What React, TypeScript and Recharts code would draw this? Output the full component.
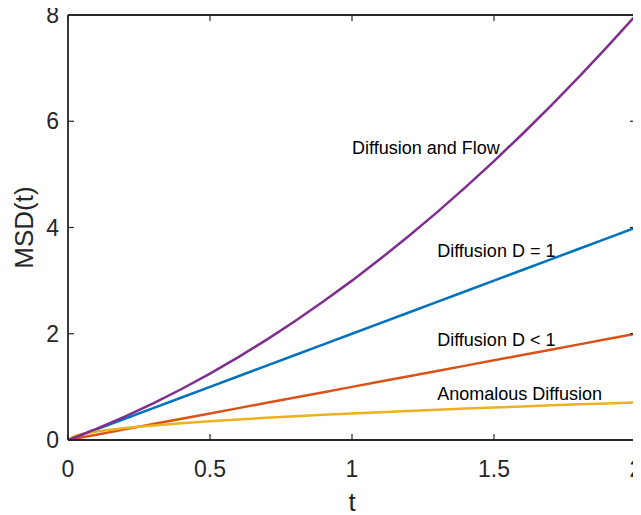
import React from 'react';
import { LineChart, Line, XAxis, YAxis, ReferenceDot, Label } from 'recharts';

// sample times and MSD values
const times = [0, 0.025, 0.05, 0.1, 0.2, 0.3, 0.4, 0.5, 0.6, 0.7, 0.8, 0.9, 1.0, 1.1, 1.2, 1.3, 1.4, 1.5, 1.6, 1.7, 1.8, 1.9, 2.0];
const diffusionD1 = [0, 0.05, 0.1, 0.2, 0.4, 0.6, 0.8, 1.0, 1.2, 1.4, 1.6, 1.8, 2.0, 2.2, 2.4, 2.6, 2.8, 3.0, 3.2, 3.4, 3.6, 3.8, 4.0];
const diffusionDlt1 = [0, 0.025, 0.05, 0.1, 0.2, 0.3, 0.4, 0.5, 0.6, 0.7, 0.8, 0.9, 1.0, 1.1, 1.2, 1.3, 1.4, 1.5, 1.6, 1.7, 1.8, 1.9, 2.0];
const anomalous = [0, 0.079, 0.112, 0.158, 0.224, 0.274, 0.316, 0.354, 0.387, 0.418, 0.447, 0.474, 0.5, 0.524, 0.548, 0.57, 0.592, 0.612, 0.632, 0.652, 0.671, 0.689, 0.707];
const diffusionFlow = [0, 0.051, 0.103, 0.21, 0.44, 0.69, 0.96, 1.25, 1.56, 1.89, 2.24, 2.61, 3.0, 3.41, 3.84, 4.29, 4.76, 5.25, 5.76, 6.29, 6.84, 7.41, 8.0];

const xTicks = [0, 0.5, 1, 1.5, 2];
const yTicks = [0, 2, 4, 6, 8];

const annotations = [
  { label: 'Diffusion and Flow', t: 1.0, msd: 5.5 },
  { label: 'Diffusion D = 1', t: 1.3, msd: 3.56 },
  { label: 'Diffusion D < 1', t: 1.3, msd: 1.88 },
  { label: 'Anomalous Diffusion', t: 1.3, msd: 0.87 },
];

const data = times.map((t, i) => ({
  t,
  d1: diffusionD1[i],
  dlt1: diffusionDlt1[i],
  anom: anomalous[i],
  flow: diffusionFlow[i],
}));

const FONT = 'Liberation Sans, Arial, Helvetica, sans-serif';
const AXIS = '#262626';

// chart layout
const W = 633;
const H = 507;
const MARGIN = { top: 7, right: 5, bottom: 0, left: 0 };
const Y_AXIS_W = 60;
const PLOT_TOP = MARGIN.top;
const PLOT_RIGHT = W - MARGIN.right;

// bottom tick: inward tick, label, mirrored tick on the top edge; the last one also draws the right edge
const BottomTick = ({ x, y, payload }: any) => (
  <g>
    <line x1={x} y1={y} x2={x} y2={y - 6} stroke={AXIS} strokeWidth={1.2} />
    <line x1={x} y1={PLOT_TOP} x2={x} y2={PLOT_TOP + 6} stroke={AXIS} strokeWidth={1.2} />
    {payload.value === xTicks[xTicks.length - 1] && (
      <line x1={x} y1={PLOT_TOP} x2={x} y2={y} stroke={AXIS} strokeWidth={1.8} />
    )}
    <text x={x} y={y + 37} textAnchor="middle" fontSize={23} fill={AXIS} fontFamily={FONT}>
      {payload.value}
    </text>
  </g>
);

// left tick: inward tick, label, mirrored tick on the right edge; the top one also draws the top edge
const LeftTick = ({ x, y, payload }: any) => (
  <g>
    <line x1={x} y1={y} x2={x + 6} y2={y} stroke={AXIS} strokeWidth={1.2} />
    <line x1={PLOT_RIGHT} y1={y} x2={PLOT_RIGHT - 6} y2={y} stroke={AXIS} strokeWidth={1.2} />
    {payload.value === yTicks[yTicks.length - 1] && (
      <line x1={x} y1={y} x2={PLOT_RIGHT} y2={y} stroke={AXIS} strokeWidth={1.8} />
    )}
    <text x={x - 9} y={y + 8} textAnchor="end" fontSize={23} fill={AXIS} fontFamily={FONT}>
      {payload.value}
    </text>
  </g>
);

const TextMark = (label: string) => (props: any) => (
  <text x={props.cx} y={props.cy} dy={6} textAnchor="start" fontSize={18} fill="#000" fontFamily={FONT}>
    {label}
  </text>
);

export default function App() {
  return (
    <LineChart width={W} height={H} data={data} margin={MARGIN}>
      <XAxis
        dataKey="t"
        type="number"
        domain={[0, 2]}
        ticks={xTicks}
        tick={<BottomTick />}
        tickLine={false}
        tickSize={0}
        tickMargin={0}
        height={75}
        axisLine={{ stroke: AXIS, strokeWidth: 1.8 }}
        interval={0}
        allowDataOverflow
      >
        <Label
          content={({ viewBox }: any) => (
            <text x={viewBox.x + viewBox.width / 2} y={viewBox.y + 71} textAnchor="middle" fontSize={26} fill={AXIS} fontFamily={FONT}>
              t
            </text>
          )}
        />
      </XAxis>
      <YAxis
        type="number"
        domain={[0, 8]}
        ticks={yTicks}
        tick={<LeftTick />}
        tickLine={false}
        tickSize={0}
        tickMargin={0}
        width={Y_AXIS_W}
        axisLine={{ stroke: AXIS, strokeWidth: 1.8 }}
        interval={0}
        allowDataOverflow
      >
        <Label
          content={({ viewBox }: any) => {
            const cx = viewBox.x + 25;
            const cy = viewBox.y + viewBox.height / 2;
            return (
              <text x={cx} y={cy} transform={`rotate(-90 ${cx} ${cy})`} textAnchor="middle" fontSize={26} fill={AXIS} fontFamily={FONT}>
                MSD(t)
              </text>
            );
          }}
        />
      </YAxis>
      <Line type="linear" dataKey="d1" stroke="#0072BD" strokeWidth={2.5} dot={false} isAnimationActive={false} />
      <Line type="linear" dataKey="dlt1" stroke="#D95319" strokeWidth={2.5} dot={false} isAnimationActive={false} />
      <Line type="linear" dataKey="anom" stroke="#EDB120" strokeWidth={2.5} dot={false} isAnimationActive={false} />
      <Line type="linear" dataKey="flow" stroke="#7E2F8E" strokeWidth={2.5} dot={false} isAnimationActive={false} />
      {annotations.map((a) => (
        <ReferenceDot key={a.label} x={a.t} y={a.msd} r={0} shape={TextMark(a.label)} isFront />
      ))}
    </LineChart>
  );
}
